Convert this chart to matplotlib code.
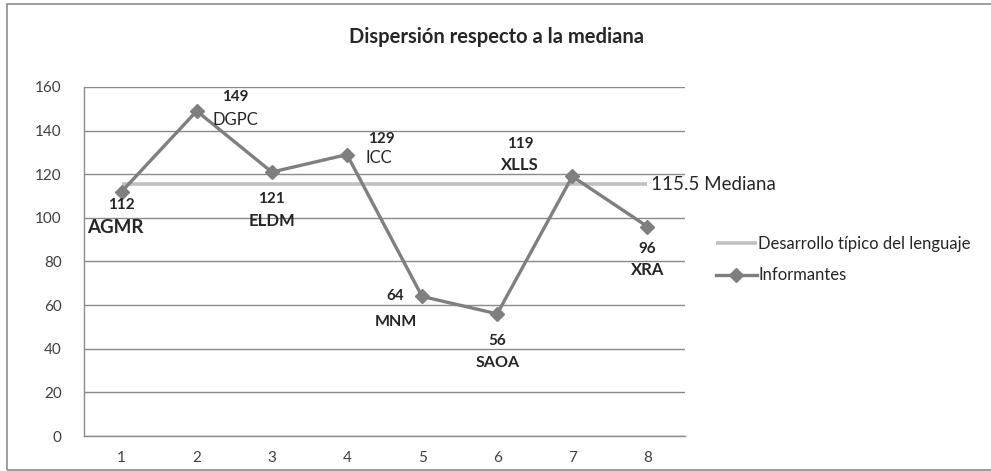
import matplotlib
matplotlib.use("Agg")
import matplotlib.pyplot as plt
from matplotlib.patches import Rectangle

# ---------- DATA ----------
categories = [1, 2, 3, 4, 5, 6, 7, 8]
informantes = [112, 149, 121, 129, 64, 56, 119, 96]
names = ["AGMR", "DGPC", "ELDM", "ICC", "MNM", "SAOA", "XLLS", "XRA"]
mediana = 115.5
y_ticks = [0, 20, 40, 60, 80, 100, 120, 140, 160]

# label offsets in pixels (number, name) relative to each point
num_off = [(0, -13), (39, 14), (0, -27), (34, 16), (-27, 0), (0, -27), (-52, 32), (0, -22)]
name_off = [(-6, -36), (39, -9), (0, -49), (32, -3), (-26, -26), (0, -49), (-52, 11), (0, -43)]
name_weight = ["bold", "normal", "bold", "normal", "bold", "bold", "bold", "bold"]
name_size = [13.5, 12, 12, 12, 11.5, 11.5, 12, 12]

# ---------- STYLE ----------
plt.rcParams.update({
    "font.family": ["Lato", "DejaVu Sans"],
    "text.color": "#262626",
})

GRID = "#8a8a8a"
DARK = "#7f7f7f"
LIGHT = "#c0c0c0"

fig = plt.figure(figsize=(9.91, 4.71), dpi=100)
ax = fig.add_axes([0.0848, 0.0743, 0.6064, 0.741])

ax.plot(categories, [mediana] * len(categories), color=LIGHT, lw=2.6,
        solid_capstyle="butt", label="Desarrollo típico del lenguaje", zorder=2)
ax.plot(categories, informantes, color=DARK, lw=2.4, marker="D", ms=7,
        label="Informantes", zorder=3)

for i, (x, y) in enumerate(zip(categories, informantes)):
    ax.annotate(str(y), (x, y), xytext=num_off[i], textcoords="offset pixels",
                ha="center", va="center", fontsize=11, fontweight="bold")
    ax.annotate(names[i], (x, y), xytext=name_off[i], textcoords="offset pixels",
                ha="center", va="center", fontsize=name_size[i],
                fontweight=name_weight[i])

ax.annotate(f"{mediana} Mediana", (categories[-1], mediana), xytext=(4, 0),
            textcoords="offset pixels", ha="left", va="center", fontsize=13.5)

ax.set_xlim(0.5, 8.5)
ax.set_ylim(0, 160)
ax.set_xticks(categories)
ax.set_yticks(y_ticks)
ax.tick_params(axis="both", length=0, labelsize=11, colors="#404040")
ax.tick_params(axis="x", pad=11)
ax.tick_params(axis="y", pad=16)
ax.yaxis.grid(True, color=GRID, lw=1)
ax.set_axisbelow(True)
for s in ["top", "right"]:
    ax.spines[s].set_visible(False)
for s in ["left", "bottom"]:
    ax.spines[s].set_color(GRID)
    ax.spines[s].set_linewidth(1)

fig.text(0.5015, 0.921, "Dispersión respecto a la mediana", ha="center",
         va="center", fontsize=14.5, fontweight="bold")

fig.legend(loc="center left", bbox_to_anchor=(0.722, 0.449), frameon=False,
           fontsize=12, handlelength=2.5, handletextpad=0.05,
           labelspacing=0.95, borderpad=0, borderaxespad=0)

fig.add_artist(Rectangle((7 / 991, 1 / 471), 1.0, 466 / 471,
                         transform=fig.transFigure, fill=False,
                         ec="#8c8c8c", lw=1.2))

fig.savefig("out.png", dpi=100)
